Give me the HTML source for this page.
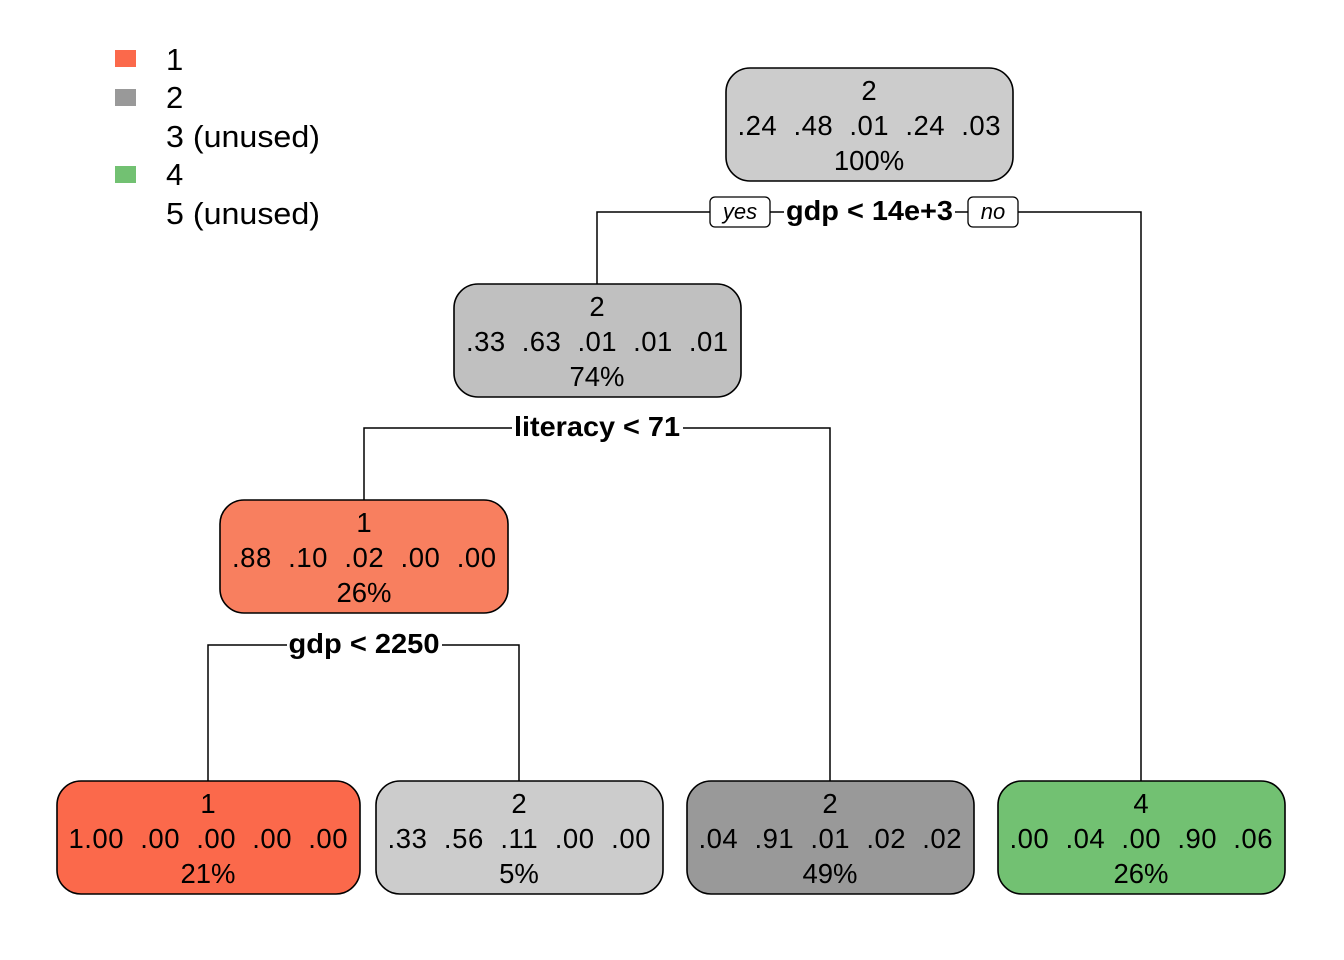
<!DOCTYPE html>
<html><head><meta charset="utf-8"><style>
html,body{margin:0;padding:0;background:#fff;}
svg{display:block;font-family:"Liberation Sans",Arial,sans-serif;}
.t{font-size:27.5px;text-anchor:middle;fill:#000;}
.b{font-size:28px;font-weight:bold;text-anchor:middle;}
.l{font-size:31px;}
.n{stroke:#000;stroke-width:1.6;}
.c{stroke:#000;stroke-width:1.5;fill:none;}
</style></head><body>
<svg width="1344" height="960" viewBox="0 0 1344 960" xmlns="http://www.w3.org/2000/svg">
<!-- legend -->
<rect x="115" y="50" width="21" height="17" fill="#FB694B"/>
<rect x="115" y="89" width="21" height="17" fill="#999999"/>
<rect x="115" y="166" width="21" height="17" fill="#72C172"/>
<text class="l" x="166" y="70">1</text>
<text class="l" x="166" y="108">2</text>
<text class="l" x="166" y="147" textLength="154" lengthAdjust="spacingAndGlyphs">3 (unused)</text>
<text class="l" x="166" y="185">4</text>
<text class="l" x="166" y="224" textLength="154" lengthAdjust="spacingAndGlyphs">5 (unused)</text>

<!-- connectors -->
<path class="c" d="M597 284 V212 H1141 V781"/>
<path class="c" d="M364 500 V428 H830 V781"/>
<path class="c" d="M208 781 V645 H519 V781"/>

<!-- split labels -->
<rect x="710" y="197" width="60" height="30" rx="5" fill="#fff" stroke="#000" stroke-width="1.3"/>
<text x="740" y="219" style="font-size:22px;font-style:italic" text-anchor="middle">yes</text>
<rect x="784" y="196" width="171" height="32" fill="#fff"/>
<text class="b" x="869.5" y="220" textLength="167" lengthAdjust="spacingAndGlyphs">gdp &lt; 14e+3</text>
<rect x="968" y="197" width="50" height="30" rx="5" fill="#fff" stroke="#000" stroke-width="1.3"/>
<text x="993" y="219" style="font-size:22px;font-style:italic" text-anchor="middle">no</text>

<rect x="512" y="412" width="171" height="32" fill="#fff"/>
<text class="b" x="597" y="436" textLength="166" lengthAdjust="spacingAndGlyphs">literacy &lt; 71</text>
<rect x="287" y="629" width="155" height="32" fill="#fff"/>
<text class="b" x="364" y="653" textLength="151" lengthAdjust="spacingAndGlyphs">gdp &lt; 2250</text>

<!-- nodes -->
<rect class="n" x="726" y="68" width="287" height="113" rx="24" fill="#CCCCCC"/>
<text class="t" x="869" y="100">2</text>
<text class="t" x="869" y="135" textLength="263" lengthAdjust="spacing" xml:space="preserve">.24  .48  .01  .24  .03</text>
<text class="t" x="869" y="170">100%</text>

<rect class="n" x="454" y="284" width="287" height="113" rx="24" fill="#C0C0C0"/>
<text class="t" x="597" y="316">2</text>
<text class="t" x="597" y="351" textLength="262" lengthAdjust="spacing" xml:space="preserve">.33  .63  .01  .01  .01</text>
<text class="t" x="597" y="386">74%</text>

<rect class="n" x="220" y="500" width="288" height="113" rx="24" fill="#F87F5F"/>
<text class="t" x="364" y="532">1</text>
<text class="t" x="364" y="567" textLength="264" lengthAdjust="spacing" xml:space="preserve">.88  .10  .02  .00  .00</text>
<text class="t" x="364" y="602">26%</text>

<rect class="n" x="57" y="781" width="303" height="113" rx="24" fill="#FB694B"/>
<text class="t" x="208" y="813">1</text>
<text class="t" x="208" y="848" textLength="279" lengthAdjust="spacing" xml:space="preserve">1.00  .00  .00  .00  .00</text>
<text class="t" x="208" y="883">21%</text>

<rect class="n" x="376" y="781" width="287" height="113" rx="24" fill="#CCCCCC"/>
<text class="t" x="519" y="813">2</text>
<text class="t" x="519" y="848" textLength="263" lengthAdjust="spacing" xml:space="preserve">.33  .56  .11  .00  .00</text>
<text class="t" x="519" y="883">5%</text>

<rect class="n" x="687" y="781" width="287" height="113" rx="24" fill="#999999"/>
<text class="t" x="830" y="813">2</text>
<text class="t" x="830" y="848" textLength="263" lengthAdjust="spacing" xml:space="preserve">.04  .91  .01  .02  .02</text>
<text class="t" x="830" y="883">49%</text>

<rect class="n" x="998" y="781" width="287" height="113" rx="24" fill="#72C172"/>
<text class="t" x="1141" y="813">4</text>
<text class="t" x="1141" y="848" textLength="263" lengthAdjust="spacing" xml:space="preserve">.00  .04  .00  .90  .06</text>
<text class="t" x="1141" y="883">26%</text>
</svg>
</body></html>
